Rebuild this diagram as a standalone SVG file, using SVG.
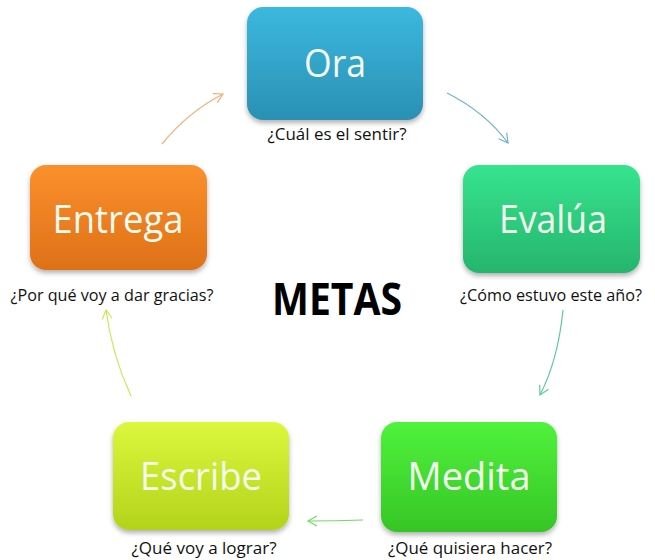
<svg xmlns="http://www.w3.org/2000/svg" width="655" height="560" viewBox="0 0 655 560">
<defs>
<linearGradient id="gOra" x1="0" y1="0" x2="0" y2="1"><stop offset="0" stop-color="#3cb8df"/><stop offset="1" stop-color="#2a90b3"/></linearGradient>
<linearGradient id="gEva" x1="0" y1="0" x2="0" y2="1"><stop offset="0" stop-color="#36e48f"/><stop offset="1" stop-color="#26b56c"/></linearGradient>
<linearGradient id="gMed" x1="0" y1="0" x2="0" y2="1"><stop offset="0" stop-color="#50f23c"/><stop offset="1" stop-color="#36c526"/></linearGradient>
<linearGradient id="gEsc" x1="0" y1="0" x2="0" y2="1"><stop offset="0" stop-color="#dcf73c"/><stop offset="1" stop-color="#b3d31b"/></linearGradient>
<linearGradient id="gEnt" x1="0" y1="0" x2="0" y2="1"><stop offset="0" stop-color="#fb902c"/><stop offset="1" stop-color="#de7118"/></linearGradient>
<filter id="sh" x="-10%" y="-10%" width="120%" height="130%"><feDropShadow dx="0" dy="3" stdDeviation="2.5" flood-color="#000" flood-opacity="0.3"/></filter>
<marker id="aBlue" markerWidth="12" markerHeight="12" refX="10" refY="6" orient="auto" markerUnits="userSpaceOnUse"><path d="M1,1 L10,6 L1,11" fill="none" stroke="#6fb0d4" stroke-width="1.2"/></marker>
<marker id="aTeal" markerWidth="12" markerHeight="12" refX="10" refY="6" orient="auto" markerUnits="userSpaceOnUse"><path d="M1,1 L10,6 L1,11" fill="none" stroke="#5cc9a0" stroke-width="1.2"/></marker>
<marker id="aGreen" markerWidth="12" markerHeight="12" refX="10" refY="6" orient="auto" markerUnits="userSpaceOnUse"><path d="M1,1 L10,6 L1,11" fill="none" stroke="#6fdc60" stroke-width="1.2"/></marker>
<marker id="aYel" markerWidth="12" markerHeight="12" refX="10" refY="6" orient="auto" markerUnits="userSpaceOnUse"><path d="M1,1 L10,6 L1,11" fill="none" stroke="#c9e85a" stroke-width="1.2"/></marker>
<marker id="aOra" markerWidth="12" markerHeight="12" refX="10" refY="6" orient="auto" markerUnits="userSpaceOnUse"><path d="M1,1 L10,6 L1,11" fill="none" stroke="#f0b07a" stroke-width="1.2"/></marker>
</defs>
<style>
.box{filter:url(#sh)}
.nt{font-family:"Open Sans","Noto Sans","Liberation Sans",sans-serif;font-size:38px;fill:#f4fbef;text-anchor:middle}
.lb{font-family:"Open Sans","Noto Sans","Liberation Sans",sans-serif;font-size:16px;fill:#111;text-anchor:middle}
.cn{fill:none;stroke-width:1.2}
</style>
<g id="connectors">
<path class="cn" d="M447,93 Q485,112 508,143" stroke="#6fb0d4" marker-end="url(#aBlue)"/>
<path class="cn" d="M563,310 Q558,360 540,395" stroke="#5cc9a0" marker-end="url(#aTeal)"/>
<path class="cn" d="M363,520 Q335,521 308,521" stroke="#6fdc60" marker-end="url(#aGreen)"/>
<path class="cn" d="M131,396 Q112,355 106,310" stroke="#c9e85a" marker-end="url(#aYel)"/>
<path class="cn" d="M162,144 Q188,112 223,94" stroke="#f0b07a" marker-end="url(#aOra)"/>
</g>
<g id="ora">
<rect class="box" x="247" y="7" width="176" height="113" rx="16" fill="url(#gOra)"/>
<text class="nt" x="335" y="77" textLength="62" lengthAdjust="spacingAndGlyphs">Ora</text>
<text class="lb" x="337" y="140" textLength="139" lengthAdjust="spacingAndGlyphs">¿Cuál es el sentir?</text>
</g>
<g id="evalua">
<rect class="box" x="463" y="165" width="177" height="108" rx="16" fill="url(#gEva)"/>
<text class="nt" x="553" y="233" textLength="108" lengthAdjust="spacingAndGlyphs">Evalúa</text>
<text class="lb" x="551" y="301" textLength="182" lengthAdjust="spacingAndGlyphs">¿Cómo estuvo este año?</text>
</g>
<g id="medita">
<rect class="box" x="381" y="422" width="176" height="110" rx="16" fill="url(#gMed)"/>
<text class="nt" x="469" y="490" textLength="123" lengthAdjust="spacingAndGlyphs">Medita</text>
<text class="lb" x="470" y="554" textLength="164" lengthAdjust="spacingAndGlyphs">¿Qué quisiera hacer?</text>
</g>
<g id="escribe">
<rect class="box" x="113" y="422" width="176" height="108" rx="16" fill="url(#gEsc)"/>
<text class="nt" x="201" y="490" textLength="122" lengthAdjust="spacingAndGlyphs">Escribe</text>
<text class="lb" x="204" y="554" textLength="145" lengthAdjust="spacingAndGlyphs">¿Qué voy a lograr?</text>
</g>
<g id="entrega">
<rect class="box" x="30" y="165" width="177" height="105" rx="16" fill="url(#gEnt)"/>
<text class="nt" x="118" y="233" textLength="131" lengthAdjust="spacingAndGlyphs">Entrega</text>
<text class="lb" x="112" y="301" textLength="203" lengthAdjust="spacingAndGlyphs">¿Por qué voy a dar gracias?</text>
</g>
<g id="metas">
<text x="337" y="315" font-family="'Open Sans','Noto Sans','Liberation Sans',sans-serif" font-weight="bold" font-size="44" fill="#000" text-anchor="middle" textLength="130" lengthAdjust="spacingAndGlyphs">METAS</text>
</g>
</svg>
